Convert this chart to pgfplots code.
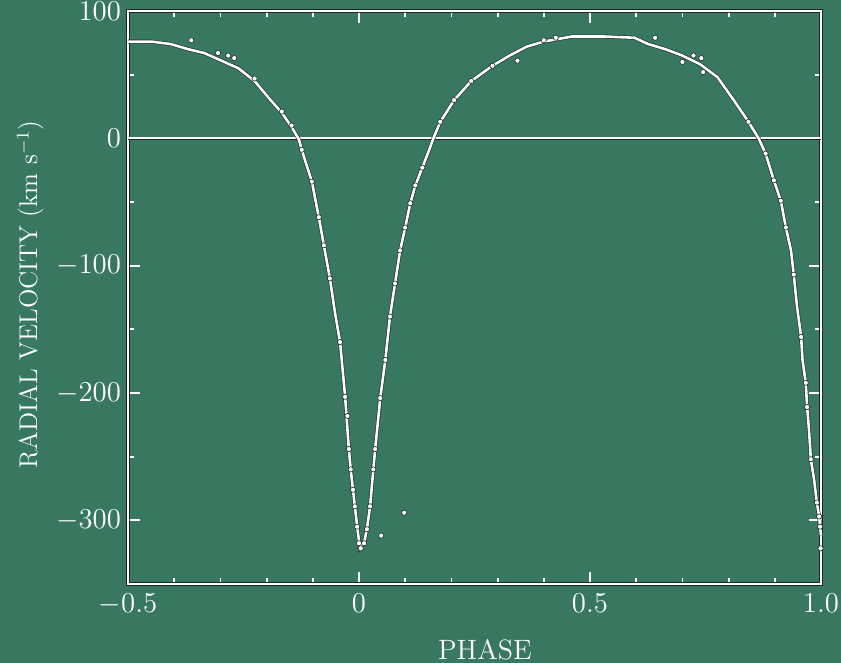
\documentclass[border=0pt]{standalone}
\usepackage{pgfplots}
\pgfplotsset{compat=1.18}
\definecolor{bggreen}{RGB}{56,120,96}
\definecolor{edge}{RGB}{30,40,35}
\begin{document}
\begin{tikzpicture}
\fill[bggreen] (0,0) rectangle (420.5pt,331.5pt);
\begin{axis}[
  at={(64pt,39.5pt)}, anchor=south west,
  scale only axis, width=346.5pt, height=286.5pt,
  xmin=-0.5, xmax=1.0, ymin=-350, ymax=100,
  xtick={-0.5,0,0.5,1}, xticklabels={$-0.5$,$0$,$0.5$,$1.0$},
  ytick={-300,-200,-100,0,100},
  minor x tick num=4, minor y tick num=1,
  tick align=inside, major tick length=6pt, minor tick length=3pt,
  tick style={white, line width=0.9pt},
  axis line style={draw=edge, double=white, double distance=1.4pt, line width=0.3pt},
  ticklabel style={white, font=\fontsize{13.5}{15}\selectfont},
  x tick label style={yshift=-1.5pt},
  xlabel={PHASE}, ylabel={RADIAL VELOCITY (km s$^{-1}$)},
  label style={white},
  xlabel style={at={(axis description cs:0.515,-0.115)}, anchor=center, font=\fontsize{14}{16}\selectfont},
  ylabel style={at={(axis description cs:-0.141,0.505)}, anchor=center, font=\fontsize{12.8}{14}\selectfont},
  clip=false,
]
\addplot[draw=edge, double=white, double distance=1.0pt, line width=0.3pt] coordinates {(-0.5,0) (1,0)};
\addplot[draw=edge, double=white, double distance=1.3pt, line width=0.3pt] coordinates {
(-0.5,76) (-0.45,76) (-0.407,74) (-0.37,70) (-0.335,67) (-0.298,61) (-0.261,55)
(-0.226,45) (-0.196,32) (-0.167,20) (-0.146,9) (-0.13,-1) (-0.124,-9) (-0.102,-34)
(-0.087,-62) (-0.076,-84) (-0.063,-110) (-0.052,-137) (-0.041,-160) (-0.030,-203)
(-0.022,-244) (-0.018,-260) (-0.009,-289) (-0.004,-305) (0.002,-322) (0.011,-318)
(0.017,-307) (0.024,-289) (0.031,-260) (0.035,-244) (0.046,-204) (0.057,-174)
(0.067,-140) (0.078,-114) (0.089,-88) (0.1,-70) (0.111,-51) (0.122,-37) (0.137,-23)
(0.152,-9) (0.161,0) (0.176,13) (0.206,30) (0.243,45) (0.289,57) (0.326,65) (0.363,72)
(0.4,76) (0.461,80) (0.528,80) (0.596,79) (0.626,74) (0.663,70) (0.7,65) (0.739,58)
(0.776,48) (0.813,29) (0.843,13) (0.865,0) (0.880,-12) (0.898,-33) (0.913,-49)
(0.924,-70) (0.935,-88) (0.941,-107) (0.948,-132) (0.957,-156) (0.960,-174)
(0.967,-192) (0.970,-211) (0.974,-229) (0.978,-252) (0.985,-268) (0.991,-286)
(0.996,-297) (1.0,-312)
};
\addplot[only marks, mark=*, mark size=1.3pt, mark options={fill=white, draw=edge, line width=0.3pt}] coordinates {
(-0.363,77) (-0.305,67) (-0.283,65) (-0.27,63) (-0.226,47) (-0.167,21) (-0.146,10)
(-0.124,-9) (-0.102,-34) (-0.087,-62) (-0.076,-84) (-0.063,-110) (-0.041,-160)
(-0.030,-203) (-0.025,-218) (-0.022,-244) (-0.018,-260) (-0.013,-276) (-0.009,-289)
(-0.004,-305) (0.0,-318) (0.004,-322) (0.011,-318) (0.017,-307) (0.024,-289)
(0.031,-260) (0.035,-244) (0.046,-204) (0.057,-174) (0.067,-140) (0.078,-114)
(0.089,-88) (0.1,-70) (0.111,-51) (0.122,-37) (0.137,-23) (0.176,13) (0.206,30)
(0.243,45) (0.289,57) (0.343,61) (0.4,77) (0.426,79) (0.641,79) (0.70,60) (0.724,65)
(0.741,63) (0.745,52) (0.843,13) (0.880,-12) (0.898,-33) (0.913,-49) (0.924,-70)
(0.941,-107) (0.957,-156) (0.967,-192) (0.970,-211) (0.978,-252) (0.991,-286)
(0.996,-297) (0.998,-305) (0.999,-322) (0.048,-312) (0.098,-294)
};
\end{axis}
\pgfresetboundingbox
\useasboundingbox (0,0) rectangle (420.5pt,331.5pt);
\end{tikzpicture}
\end{document}
